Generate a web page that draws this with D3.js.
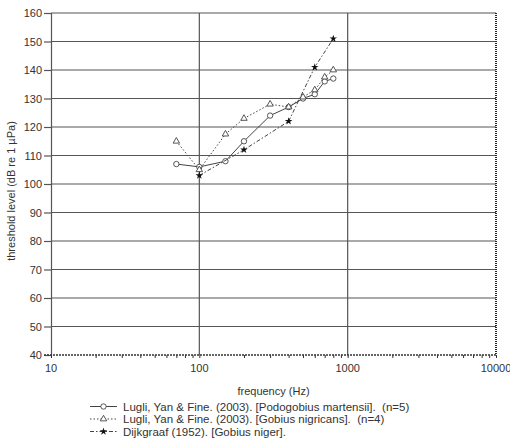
<!DOCTYPE html>
<html>
<head>
<meta charset="utf-8">
<script src="https://cdn.jsdelivr.net/npm/d3@7"></script>
<style>
  body { margin: 0; background: #fff; }
  svg text { font-family: "Liberation Sans", Arial, sans-serif; fill: #333; white-space: pre; }
</style>
</head>
<body>
<div id="chart"></div>
<script>
// values
const freqMartensii = [70, 100, 150, 200, 300, 400, 500, 600, 700, 800];
const levelMartensii = [107, 106, 108, 115, 124, 127, 130, 131.5, 136, 137];

const freqNigricans = [70, 100, 150, 200, 300, 400, 500, 600, 700, 800];
const levelNigricans = [115, 105, 117.5, 123, 128, 127, 130.5, 133, 137.5, 140];

const freqNiger = [100, 200, 400, 600, 800];
const levelNiger = [103, 112, 122, 141, 151];

const xTickLabels = [10, 100, 1000, 10000];
const yTickValues = [40, 50, 60, 70, 80, 90, 100, 110, 120, 130, 140, 150, 160];

const legendLabels = [
  "Lugli, Yan & Fine. (2003). [Podogobius martensii].  (n=5)",
  "Lugli, Yan & Fine. (2003). [Gobius nigricans].  (n=4)",
  "Dijkgraaf (1952). [Gobius niger]."
];

const W = 510, H = 444;
const margin = { top: 13, right: 14, bottom: 89, left: 51 },
  width = W - margin.left - margin.right,
  height = H - margin.top - margin.bottom;

const svg = d3.select("#chart").append("svg")
  .attr("width", W)
  .attr("height", H);

const g = svg.append("g")
  .attr("transform", "translate(" + margin.left + "," + margin.top + ")");

const x = d3.scaleLog().domain([10, 10000]).range([0, width]);
const y = d3.scaleLinear().domain([40, 160]).range([height, 0]);

// horizontal grid
g.append("g")
  .selectAll("line")
  .data(yTickValues.slice(1))
  .join("line")
  .attr("x1", 0).attr("x2", width)
  .attr("y1", d => y(d)).attr("y2", d => y(d))
  .attr("stroke", "#555").attr("stroke-width", 1.2);

// vertical grid at decades
g.append("g")
  .selectAll("line")
  .data([100, 1000])
  .join("line")
  .attr("x1", d => x(d)).attr("x2", d => x(d))
  .attr("y1", 0).attr("y2", height)
  .attr("stroke", "#555").attr("stroke-width", 1.2);

// right edge (dotted look)
g.append("line")
  .attr("x1", width).attr("x2", width)
  .attr("y1", 0).attr("y2", height)
  .attr("stroke", "#222").attr("stroke-width", 2)
  .attr("stroke-dasharray", "1,1");

// left axis
const yAxis = g.append("g")
  .call(d3.axisLeft(y).tickValues(yTickValues).tickSize(7).tickPadding(2).tickFormat(d3.format("d")));
yAxis.select(".domain").attr("stroke", "#555").attr("stroke-width", 1.2);
yAxis.selectAll(".tick line").attr("stroke", "#555").attr("stroke-width", 1.2);
yAxis.selectAll("text").attr("font-size", 11).attr("fill", "#333");

// bottom axis with minor ticks
const xAxis = g.append("g")
  .attr("transform", "translate(0," + height + ")")
  .call(d3.axisBottom(x).tickValues(x.ticks()).tickSize(3).tickFormat(() => ""));
xAxis.select(".domain").remove();
xAxis.selectAll(".tick line").attr("stroke", "#333").attr("stroke-width", 1);
g.append("line")
  .attr("x1", -7).attr("x2", width)
  .attr("y1", height).attr("y2", height)
  .attr("stroke", "#333").attr("stroke-width", 1.6)
  .attr("stroke-dasharray", "2,1");

g.append("g")
  .selectAll("text")
  .data(xTickLabels)
  .join("text")
  .attr("x", d => x(d))
  .attr("y", height + 17)
  .attr("text-anchor", "middle")
  .attr("font-size", 11)
  .text(d => d);

// axis titles
svg.append("text")
  .attr("x", margin.left + width / 2)
  .attr("y", 395)
  .attr("text-anchor", "middle")
  .attr("font-size", 11)
  .text("frequency (Hz)");

svg.append("text")
  .attr("transform", "translate(15," + (margin.top + 178) + ") rotate(-90)")
  .attr("text-anchor", "middle")
  .attr("font-size", 11)
  .text("threshold level (dB re 1 \u00b5Pa)");

// series
const series = [
  { f: freqMartensii, v: levelMartensii, dash: null, marker: "circle" },
  { f: freqNigricans, v: levelNigricans, dash: "1.5,2", marker: "triangle" },
  { f: freqNiger, v: levelNiger, dash: "4,2,1.5,2", marker: "star" }
];

const line = d3.line().x(d => x(d[0])).y(d => y(d[1]));

function drawMarker(sel, type) {
  if (type === "circle") {
    sel.append("circle").attr("r", 2.7)
      .attr("fill", "#fff").attr("stroke", "#444").attr("stroke-width", 0.9);
  } else if (type === "triangle") {
    sel.append("path").attr("d", d3.symbol(d3.symbolTriangle, 18)())
      .attr("fill", "#fff").attr("stroke", "#444").attr("stroke-width", 0.9);
  } else {
    sel.append("path").attr("d", d3.symbol(d3.symbolStar, 18)())
      .attr("fill", "#111").attr("stroke", "none");
  }
}

series.forEach(s => {
  const pts = s.f.map((f, i) => [f, s.v[i]]);
  g.append("path")
    .datum(pts)
    .attr("d", line)
    .attr("fill", "none")
    .attr("stroke", "#444")
    .attr("stroke-width", 1)
    .attr("stroke-dasharray", s.dash);
  g.append("g")
    .selectAll("g")
    .data(pts)
    .join("g")
    .attr("transform", d => "translate(" + x(d[0]) + "," + y(d[1]) + ")")
    .call(sel => drawMarker(sel, s.marker));
});

// legend
const legend = svg.append("g");
legendLabels.forEach((label, i) => {
  const s = series[i];
  const ly = 406.5 + i * 12.5;
  legend.append("line")
    .attr("x1", 90).attr("x2", 117)
    .attr("y1", ly).attr("y2", ly)
    .attr("stroke", "#444").attr("stroke-width", 1)
    .attr("stroke-dasharray", s.dash);
  legend.append("g")
    .attr("transform", "translate(103.5," + ly + ")")
    .call(sel => drawMarker(sel, s.marker));
  legend.append("text")
    .attr("x", 123)
    .attr("y", ly + 4)
    .attr("font-size", 11.5)
    .text(label);
});
</script>
</body>
</html>
